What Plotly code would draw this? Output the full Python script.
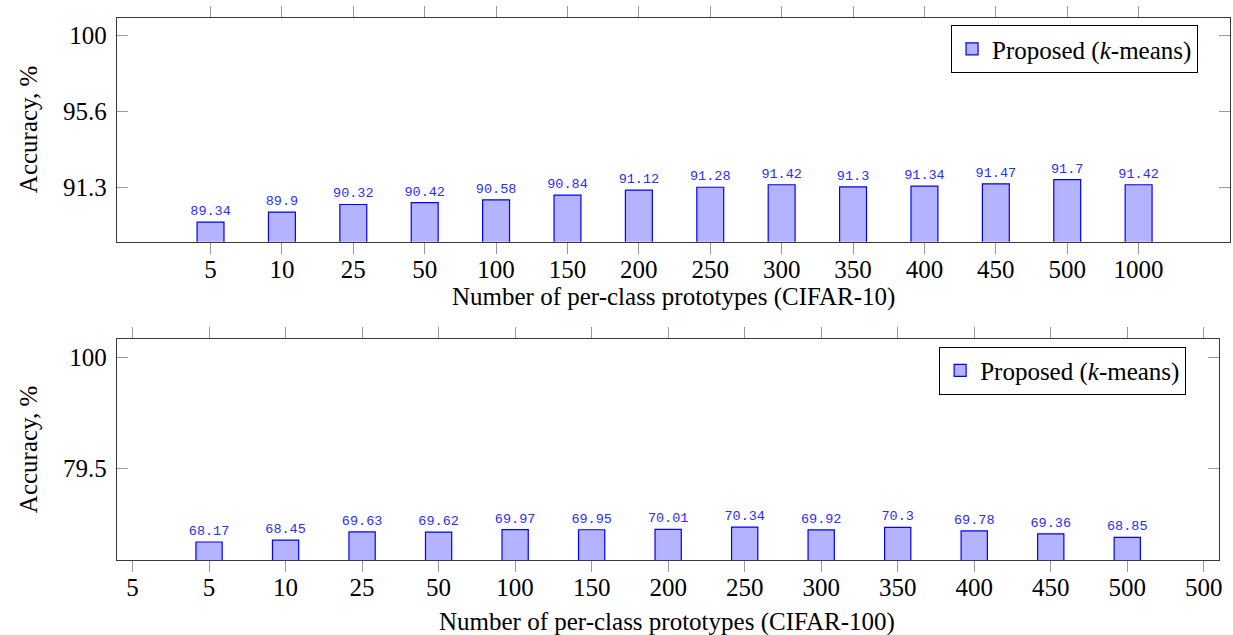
import plotly.graph_objects as go

# ---------------- data ----------------
cifar10_categories = ["5", "10", "25", "50", "100", "150", "200", "250",
                      "300", "350", "400", "450", "500", "1000"]
cifar10_accuracy = [89.34, 89.9, 90.32, 90.42, 90.58, 90.84, 91.12, 91.28,
                    91.42, 91.3, 91.34, 91.47, 91.7, 91.42]

cifar100_tick_labels = ["5", "5", "10", "25", "50", "100", "150", "200", "250",
                        "300", "350", "400", "450", "500", "500"]
cifar100_categories = ["5", "10", "25", "50", "100", "150", "200", "250",
                       "300", "350", "400", "450", "500"]
cifar100_accuracy = [68.17, 68.45, 69.63, 69.62, 69.97, 69.95, 70.01, 70.34,
                     69.92, 70.3, 69.78, 69.36, 68.85]

top_ytick_text = ["91.3", "95.6", "100"]
bottom_ytick_text = ["79.5", "100"]

series_name = "Proposed (<i>k</i>-means)"

# ---------------- layout helpers ----------------
# tick positions of the original axes (label text differs from position)
top_ytick_pos = [91.29, 95.51, 99.75]
bottom_ytick_pos = [78.89, 94.92]

SERIF = "Liberation Serif"
MONO = "Liberation Mono"
FILL = "#b3b3ff"
EDGE = "#0000ff"
LABEL_BLUE = "#2b2bff"
AXIS_COL = "#3a3a3a"
TICK_COL = "#9a9a9a"

x_top = list(range(len(cifar10_categories)))
x_bottom_ticks = list(range(len(cifar100_tick_labels)))
x_bottom = [i + 1 for i in range(len(cifar100_categories))]

fig = go.Figure()

fig.add_trace(go.Bar(
    x=x_top, y=cifar10_accuracy,
    text=[f"{v:g}" for v in cifar10_accuracy],
    textposition="outside", constraintext="none", cliponaxis=False,
    textfont=dict(family=MONO, size=13.5, color=LABEL_BLUE),
    marker=dict(color=FILL, line=dict(color=EDGE, width=1.2)),
    width=0.377, name=series_name, xaxis="x", yaxis="y", legend="legend",
))

fig.add_trace(go.Bar(
    x=x_bottom, y=cifar100_accuracy,
    text=[f"{v:g}" for v in cifar100_accuracy],
    textposition="outside", constraintext="none", cliponaxis=False,
    textfont=dict(family=MONO, size=13.5, color=LABEL_BLUE),
    marker=dict(color=FILL, line=dict(color=EDGE, width=1.2)),
    width=0.343, name=series_name, xaxis="x2", yaxis="y2", legend="legend2",
))

common_x = dict(
    showline=True, linecolor=AXIS_COL, linewidth=1.3, mirror="ticks",
    ticks="outside", ticklen=11, tickcolor=TICK_COL, tickwidth=1,
    showgrid=False, zeroline=False, ticklabelstandoff=-6,
    tickfont=dict(family=SERIF, size=25, color="black"),
)
common_y = dict(
    showline=True, linecolor=AXIS_COL, linewidth=1.3, mirror="ticks",
    ticks="inside", ticklen=11, tickcolor=TICK_COL, tickwidth=1,
    showgrid=False, zeroline=False, ticklabelstandoff=4,
    tickfont=dict(family=SERIF, size=25, color="black"),
)

fig.update_layout(
    width=1233, height=635,
    margin=dict(l=117, r=0, t=18, b=75),
    paper_bgcolor="white", plot_bgcolor="white",
    barmode="overlay",
    xaxis=dict(common_x, domain=[0, 1.0], anchor="y",
               range=[-1.31, 14.28], tickmode="array",
               tickvals=x_top, ticktext=cifar10_categories),
    yaxis=dict(common_y, domain=[0.5873, 1.0], anchor="x",
               range=[88.25, 100.7], tickmode="array",
               tickvals=top_ytick_pos, ticktext=top_ytick_text),
    xaxis2=dict(common_x, domain=[0, 0.9904], anchor="y2",
                range=[-0.203, 14.203], tickmode="array",
                tickvals=x_bottom_ticks, ticktext=cifar100_tick_labels),
    yaxis2=dict(common_y, domain=[0, 0.4072], anchor="x2",
                range=[65.56, 97.59], tickmode="array",
                tickvals=bottom_ytick_pos, ticktext=bottom_ytick_text),
    legend=dict(x=0.9713, xanchor="right", y=0.987, yanchor="top",
                bgcolor="white", bordercolor="black", borderwidth=1,
                font=dict(family=SERIF, size=25, color="black")),
    legend2=dict(x=0.9606, xanchor="right", y=0.3935, yanchor="top",
                 bgcolor="white", bordercolor="black", borderwidth=1,
                 font=dict(family=SERIF, size=25, color="black")),
    showlegend=True,
)

title_font = dict(family=SERIF, size=25, color="black")
fig.add_annotation(text="Accuracy, %", xref="paper", yref="paper",
                   x=-0.0789, y=0.7934, textangle=-90, showarrow=False,
                   xanchor="center", yanchor="middle", font=title_font)
fig.add_annotation(text="Accuracy, %", xref="paper", yref="paper",
                   x=-0.0789, y=0.203, textangle=-90, showarrow=False,
                   xanchor="center", yanchor="middle", font=title_font)
fig.add_annotation(text="Number of per-class prototypes (CIFAR-10)",
                   xref="paper", yref="paper", x=0.5, y=0.485,
                   showarrow=False, xanchor="center", yanchor="middle",
                   font=title_font)
fig.add_annotation(text="Number of per-class prototypes (CIFAR-100)",
                   xref="paper", yref="paper", x=0.4945, y=-0.1145,
                   showarrow=False, xanchor="center", yanchor="middle",
                   font=title_font)

fig.write_html("out.html",
               config={"displayModeBar": False},
               post_script="document.body.style.margin='0';"
                           "document.body.style.overflow='hidden';")
